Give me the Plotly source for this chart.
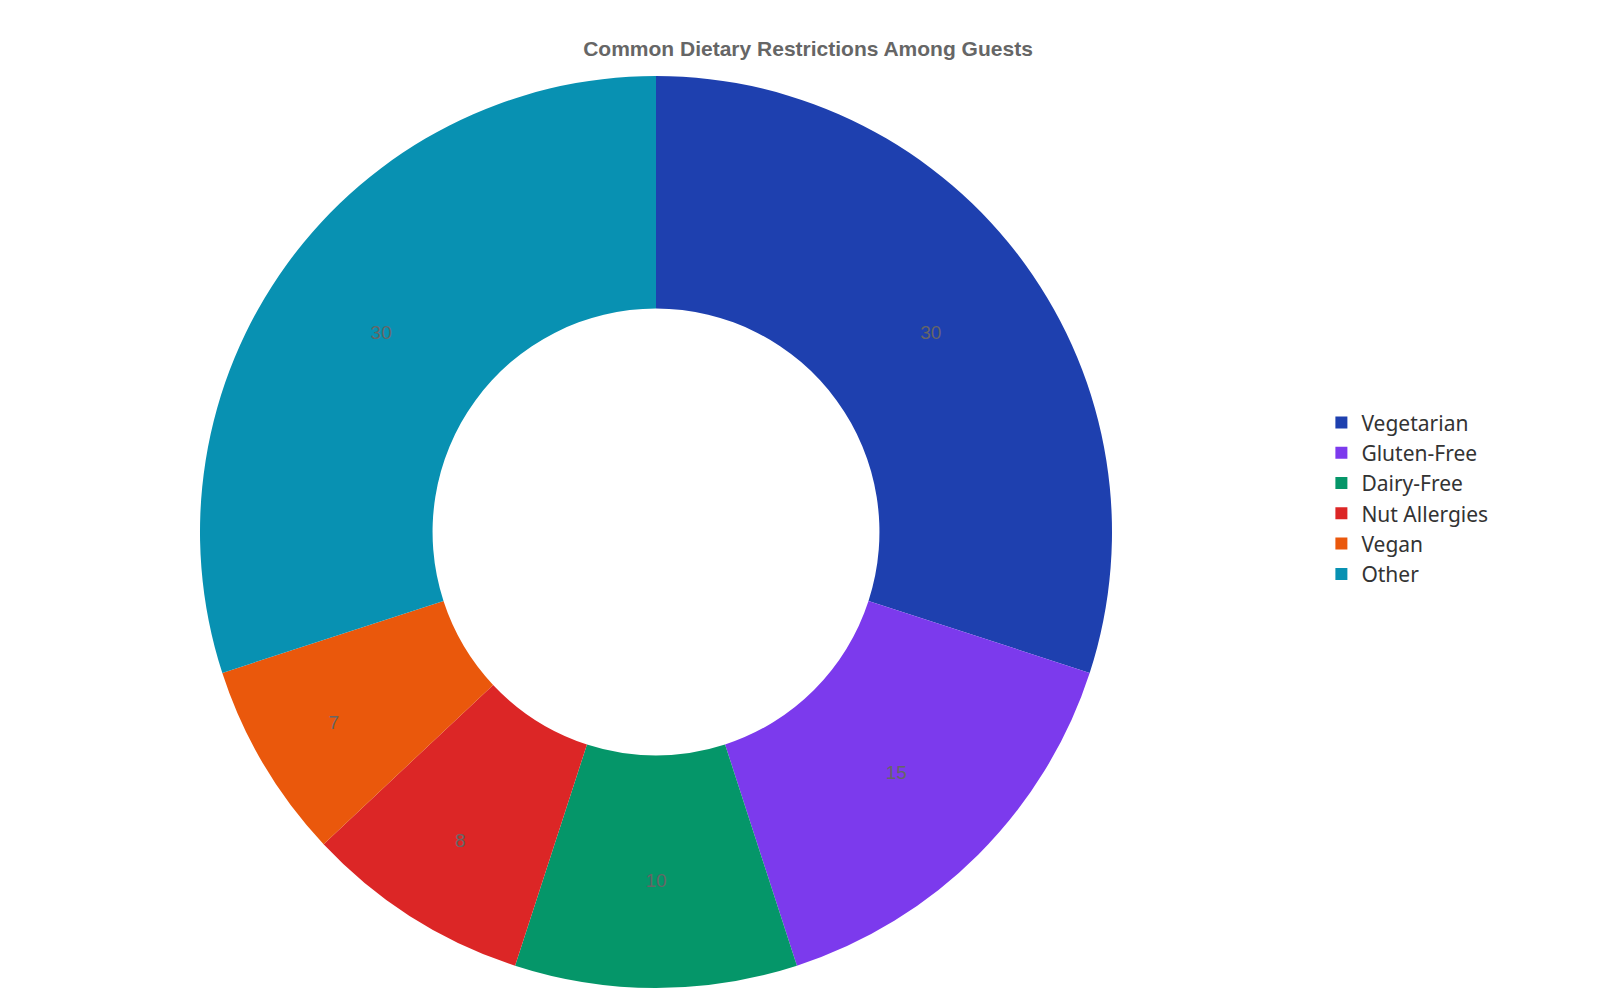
import plotly.graph_objects as go

labels = ["Vegetarian", "Gluten-Free", "Dairy-Free", "Nut Allergies", "Vegan", "Other"]
values = [30, 15, 10, 8, 7, 30]
colors = ["#1E40AF", "#7C3AED", "#059669", "#DC2626", "#EA580C", "#0891B2"]

fig = go.Figure(go.Pie(
    labels=labels, values=values, hole=0.49, sort=False, direction="clockwise",
    rotation=0, marker=dict(colors=colors, line=dict(width=0)),
    textinfo="value", textposition="inside", insidetextorientation="horizontal",
    textfont=dict(family="Liberation Sans, Arial", size=19, color="#666666"),
))

fig.update_layout(
    width=1600, height=1000,
    paper_bgcolor="white",
    title=dict(text="<b>Common Dietary Restrictions Among Guests</b>", x=0.5, xanchor="center",
               y=0.967, font=dict(family="Liberation Sans, Arial", size=21, color="#666666")),
    margin=dict(l=191, r=495, t=68, b=20),
    legend=dict(x=1.228, y=0.537, xanchor="left", yanchor="middle",
                font=dict(family="Noto Sans", size=21, color="#333333"),
                tracegroupgap=8),
)

fig.write_html("out.html")
